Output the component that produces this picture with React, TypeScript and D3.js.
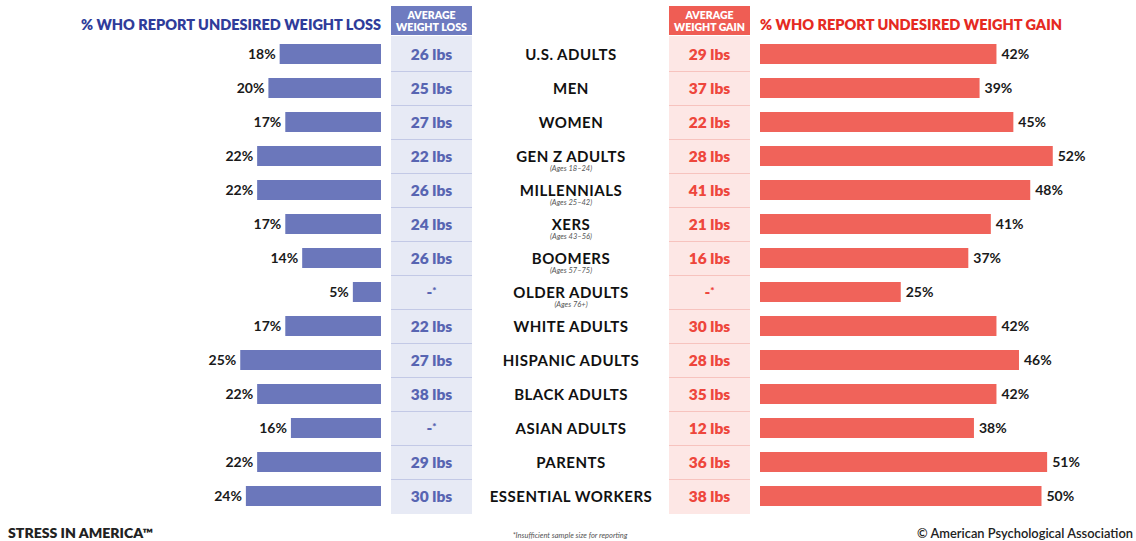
import React from "react";
import * as d3 from "d3";

const categories = [
  "U.S. ADULTS", "MEN", "WOMEN", "GEN Z ADULTS", "MILLENNIALS", "XERS", "BOOMERS",
  "OLDER ADULTS", "WHITE ADULTS", "HISPANIC ADULTS", "BLACK ADULTS", "ASIAN ADULTS",
  "PARENTS", "ESSENTIAL WORKERS",
];
const subtitles = ["", "", "", "(Ages 18–24)", "(Ages 25–42)", "(Ages 43–56)", "(Ages 57–75)", "(Ages 76+)", "", "", "", "", "", ""];
const lossPct = [18, 20, 17, 22, 22, 17, 14, 5, 17, 25, 22, 16, 22, 24];
const avgLoss: (number | null)[] = [26, 25, 27, 22, 26, 24, 26, null, 22, 27, 38, null, 29, 30];
const avgGain: (number | null)[] = [29, 37, 22, 28, 41, 21, 16, null, 30, 28, 35, 12, 36, 38];
const gainPct = [42, 39, 45, 52, 48, 41, 37, 25, 42, 46, 42, 38, 51, 50];

const FONT = "Lato, 'Open Sans', sans-serif";
const BLUE_BAR = "#6b77bb";
const BLUE_HEAD = "#6e7bc0";
const BLUE_BODY = "#e7eaf5";
const BLUE_LINE = "#c3c9e6";
const BLUE_TEXT = "#5865b2";
const BLUE_TITLE = "#2f3c9a";
const RED_BAR = "#f0635a";
const RED_HEAD = "#ef5d54";
const RED_BODY = "#fde7e5";
const RED_LINE = "#f7c3be";
const RED_TEXT = "#ee463c";
const RED_TITLE = "#e52a22";

export default function App() {
  const W = 1136, H = 541;
  const y = d3.scaleBand<number>().domain(d3.range(categories.length)).range([37, 513]).paddingInner(0).paddingOuter(0);
  const bw = d3.scaleLinear().domain([0, 50]).range([0, 281.5]);
  const leftEdge = 381;
  const rightEdge = 760;
  const barH = 20;
  const lossCol = { x0: 391, x1: 472 };
  const gainCol = { x0: 669, x1: 750 };
  const cx = 571;

  return (
    <svg width={W} height={H} style={{ position: "absolute", left: 0, top: 0, background: "#fff" }} fontFamily={FONT}>
      {/* titles */}
      <text x={381} y={30} textAnchor="end" fontSize={14.5} fontWeight={800} fill={BLUE_TITLE} textLength={300} lengthAdjust="spacingAndGlyphs">% WHO REPORT UNDESIRED WEIGHT LOSS</text>
      <text x={760} y={30} fontSize={14.5} fontWeight={800} fill={RED_TITLE} textLength={302} lengthAdjust="spacingAndGlyphs">% WHO REPORT UNDESIRED WEIGHT GAIN</text>

      {/* column headers */}
      {[{ c: lossCol, fill: BLUE_HEAD, t: "WEIGHT LOSS", body: BLUE_BODY }, { c: gainCol, fill: RED_HEAD, t: "WEIGHT GAIN", body: RED_BODY }].map((h, i) => (
        <g key={i}>
          <rect x={h.c.x0} y={6} width={h.c.x1 - h.c.x0} height={29} fill={h.fill} />
          <rect x={h.c.x0} y={36} width={h.c.x1 - h.c.x0} height={478} fill={h.body} />
          <text x={(h.c.x0 + h.c.x1) / 2} y={19} textAnchor="middle" fontSize={10.5} fontWeight={800} fill="#fff">AVERAGE</text>
          <text x={(h.c.x0 + h.c.x1) / 2} y={31} textAnchor="middle" fontSize={10.5} fontWeight={800} fill="#fff" textLength={71} lengthAdjust="spacingAndGlyphs">{h.t}</text>
        </g>
      ))}

      {categories.map((cat, i) => {
        const top = y(i)!;
        const mid = top + y.bandwidth() / 2;
        const lw = bw(lossPct[i]);
        const gw = bw(gainPct[i]);
        return (
          <g key={cat}>
            {i > 0 && <line x1={lossCol.x0} x2={lossCol.x1} y1={top + 0.5} y2={top + 0.5} stroke={BLUE_LINE} strokeWidth={1} />}
            {i > 0 && <line x1={gainCol.x0} x2={gainCol.x1} y1={top + 0.5} y2={top + 0.5} stroke={RED_LINE} strokeWidth={1} />}
            <rect x={leftEdge - lw} y={mid - barH / 2} width={lw} height={barH} fill={BLUE_BAR} />
            <text x={leftEdge - lw - 4} y={mid + 5} textAnchor="end" fontSize={14} fontWeight={700} fill="#1a1a1a">{lossPct[i]}%</text>
            <rect x={rightEdge} y={mid - barH / 2} width={gw} height={barH} fill={RED_BAR} />
            <text x={rightEdge + gw + 5} y={mid + 5} fontSize={14} fontWeight={700} fill="#1a1a1a">{gainPct[i]}%</text>
            <text x={(lossCol.x0 + lossCol.x1) / 2} y={mid + 5.5} textAnchor="middle" fontSize={15.5} fontWeight={800} fill={BLUE_TEXT}>
              {avgLoss[i] == null ? <>-<tspan fontSize={10} dy={-4}>*</tspan></> : `${avgLoss[i]} lbs`}
            </text>
            <text x={(gainCol.x0 + gainCol.x1) / 2} y={mid + 5.5} textAnchor="middle" fontSize={15.5} fontWeight={800} fill={RED_TEXT}>
              {avgGain[i] == null ? <>-<tspan fontSize={10} dy={-4}>*</tspan></> : `${avgGain[i]} lbs`}
            </text>
            <text x={cx} y={mid + 5.5} textAnchor="middle" fontSize={15} fontWeight={700} fill="#111" letterSpacing={0.5}>{cat}</text>
            {subtitles[i] && (
              <text x={cx} y={mid + 15} textAnchor="middle" fontSize={7.5} fontStyle="italic" fill="#555">{subtitles[i]}</text>
            )}
          </g>
        );
      })}

      {/* footer */}
      <text x={8} y={538} fontSize={13} fontWeight={800} fill="#222" textLength={145} lengthAdjust="spacingAndGlyphs">STRESS IN AMERICA™</text>
      <text x={570} y={538} textAnchor="middle" fontSize={7.5} fontStyle="italic" fill="#555">*Insufficient sample size for reporting</text>
      <text x={1133} y={538} textAnchor="end" fontSize={13} fontWeight={600} fill="#222" textLength={216} lengthAdjust="spacingAndGlyphs">© American Psychological Association</text>
    </svg>
  );
}
